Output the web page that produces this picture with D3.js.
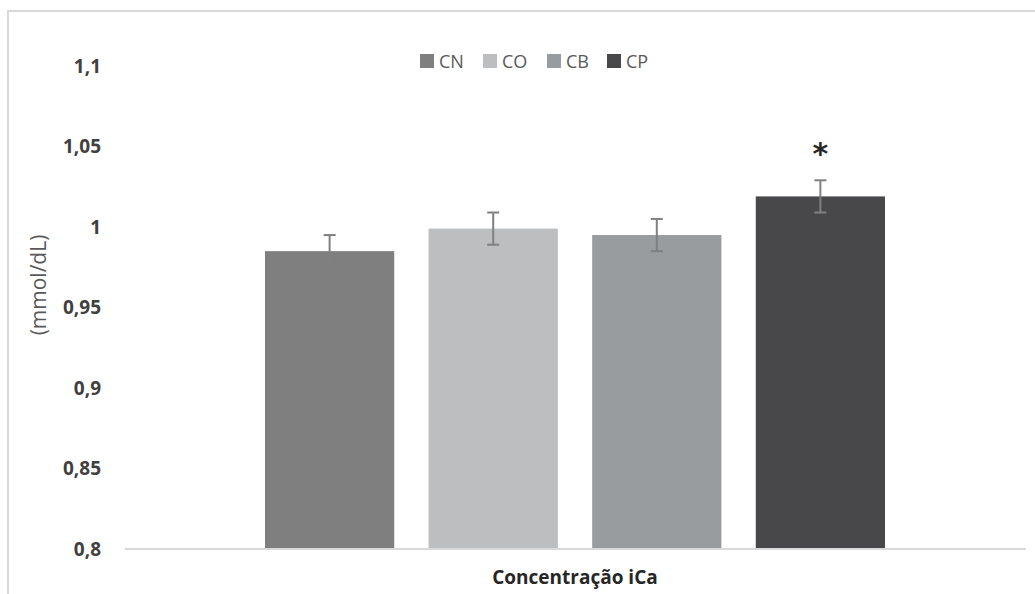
<!DOCTYPE html>
<html>
<head>
<meta charset="utf-8">
<script src="https://cdn.jsdelivr.net/npm/d3@7"></script>
<style>
  body { margin: 0; background: #fff; }
</style>
</head>
<body>
<script>
// data
var series = ["CN", "CO", "CB", "CP"];
var values = [0.985, 0.999, 0.995, 1.019];
var errors = [0.010, 0.010, 0.010, 0.010];
var colors = ["#7f7f80", "#bdbec0", "#999c9f", "#48484a"];
var marks = ["", "", "", "*"];
var yTicks = [0.8, 0.85, 0.9, 0.95, 1, 1.05, 1.1];
var category = "Concentração iCa";

var width = 1035, height = 594;
var margin = {left: 125, right: 9, top: 66, bottom: 45};

var svg = d3.select("body").append("svg")
    .attr("width", width)
    .attr("height", height);

// chart border
svg.append("rect")
    .attr("x", 8).attr("y", 11)
    .attr("width", width + 10).attr("height", height + 10)
    .attr("fill", "none")
    .attr("stroke", "#d9d9d9")
    .attr("stroke-width", 2);

var y = d3.scaleLinear()
    .domain([0.8, 1.1])
    .range([height - margin.bottom, margin.top]);

var x = d3.scaleBand()
    .domain(series)
    .range([265, 885])
    .paddingInner(0.21);

// y tick labels (no axis line)
var yAxis = d3.axisLeft(y)
    .tickValues(yTicks)
    .tickSize(0)
    .tickPadding(0)
    .tickFormat(function(d) { return String(d).replace(".", ","); });

var yg = svg.append("g")
    .attr("transform", "translate(101,0)")
    .call(yAxis);
yg.select(".domain").remove();
yg.selectAll("text")
    .style("font-family", "'Open Sans', sans-serif")
    .style("font-weight", "bold")
    .style("font-size", "19px")
    .attr("fill", "#404040");

// bars
svg.selectAll(".bar")
    .data(series)
    .enter().append("rect")
    .attr("class", "bar")
    .attr("x", function(d) { return x(d); })
    .attr("width", x.bandwidth())
    .attr("y", function(d, i) { return y(values[i]); })
    .attr("height", function(d, i) { return y(0.8) - y(values[i]); })
    .attr("fill", function(d, i) { return colors[i]; });

// baseline
svg.append("line")
    .attr("x1", 125).attr("x2", 1026)
    .attr("y1", y(0.8)).attr("y2", y(0.8))
    .attr("stroke", "#d9d9d9")
    .attr("stroke-width", 2);

// error bars
var eb = svg.selectAll(".err")
    .data(series)
    .enter().append("g")
    .attr("class", "err")
    .attr("stroke", "#808080")
    .attr("stroke-width", 2);

eb.append("line")
    .attr("x1", function(d) { return x(d) + x.bandwidth() / 2; })
    .attr("x2", function(d) { return x(d) + x.bandwidth() / 2; })
    .attr("y1", function(d, i) { return y(values[i] + errors[i]); })
    .attr("y2", function(d, i) { return y(values[i] - errors[i]); });
eb.append("line")
    .attr("x1", function(d) { return x(d) + x.bandwidth() / 2 - 6; })
    .attr("x2", function(d) { return x(d) + x.bandwidth() / 2 + 6; })
    .attr("y1", function(d, i) { return y(values[i] + errors[i]); })
    .attr("y2", function(d, i) { return y(values[i] + errors[i]); });
eb.append("line")
    .attr("x1", function(d) { return x(d) + x.bandwidth() / 2 - 6; })
    .attr("x2", function(d) { return x(d) + x.bandwidth() / 2 + 6; })
    .attr("y1", function(d, i) { return y(values[i] - errors[i]); })
    .attr("y2", function(d, i) { return y(values[i] - errors[i]); });

// significance mark
svg.selectAll(".mark")
    .data(series)
    .enter().append("text")
    .attr("class", "mark")
    .attr("x", function(d) { return x(d) + x.bandwidth() / 2; })
    .attr("y", function(d, i) { return y(values[i] + errors[i]) - 16; })
    .attr("text-anchor", "middle")
    .style("font-family", "'DejaVu Sans', sans-serif")
    .style("font-weight", "bold")
    .style("font-size", "30px")
    .attr("fill", "#262626")
    .text(function(d, i) { return marks[i]; });

// legend
var legendX = [420, 483, 547, 607];
var legend = svg.selectAll(".legend")
    .data(series)
    .enter().append("g")
    .attr("class", "legend")
    .attr("transform", function(d, i) { return "translate(" + legendX[i] + ",54)"; });

legend.append("rect")
    .attr("width", 14).attr("height", 14)
    .attr("fill", function(d, i) { return colors[i]; });

legend.append("text")
    .attr("x", 19).attr("y", 14)
    .style("font-family", "'Open Sans', sans-serif")
    .style("font-size", "18px")
    .attr("fill", "#595959")
    .text(function(d) { return d; });

// axis titles
svg.append("text")
    .attr("x", 575)
    .attr("y", 584)
    .attr("text-anchor", "middle")
    .style("font-family", "'Open Sans', sans-serif")
    .style("font-weight", "bold")
    .style("font-size", "19px")
    .attr("fill", "#262626")
    .text(category);

svg.append("text")
    .attr("transform", "translate(46,285) rotate(-90)")
    .attr("text-anchor", "middle")
    .style("font-family", "'Open Sans', sans-serif")
    .style("font-size", "21px")
    .attr("fill", "#595959")
    .text("(mmol/dL)");
</script>
</body>
</html>
